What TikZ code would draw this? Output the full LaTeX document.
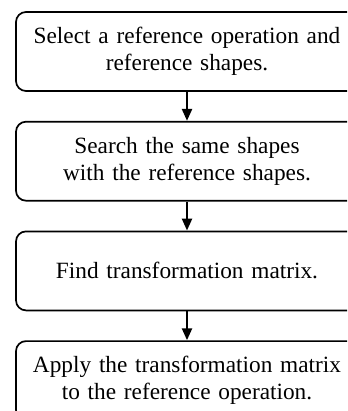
\documentclass[tikz,border=0pt]{standalone}
\usepackage{fontspec}
\setmainfont{Liberation Serif}
\usetikzlibrary{positioning,arrows.meta}
\tikzset{
  flowbox/.style={draw=black, line width=1.7pt, rounded corners=10pt,
                  align=center, text width=330pt,
                  font=\fontsize{23.3}{27}\selectfont,
                  minimum width=342pt, minimum height=79pt, inner sep=0pt},
  flowarrow/.style={-{Triangle[length=12pt,width=10pt]}, line width=2.4pt, draw=black},
}

\begin{document}
\begin{tikzpicture}[node distance=29pt]
    \path[use as bounding box, clip] (0,0) rectangle (347pt,-411pt);

      \node[flowbox] (select) at (187pt,-51.5pt) {Select a reference operation and\\reference shapes.};
      \node[flowbox, below=of select] (search) {Search the same shapes\\with the reference shapes.};
      \node[flowbox, below=of search] (find) {Find transformation matrix.};
      \node[flowbox, below=of find] (apply) {Apply the transformation matrix\\to the reference operation.};

      \draw[flowarrow] (select) -- (search);
      \draw[flowarrow] (search) -- (find);
      \draw[flowarrow] (find) -- (apply);

\end{tikzpicture}
\end{document}
